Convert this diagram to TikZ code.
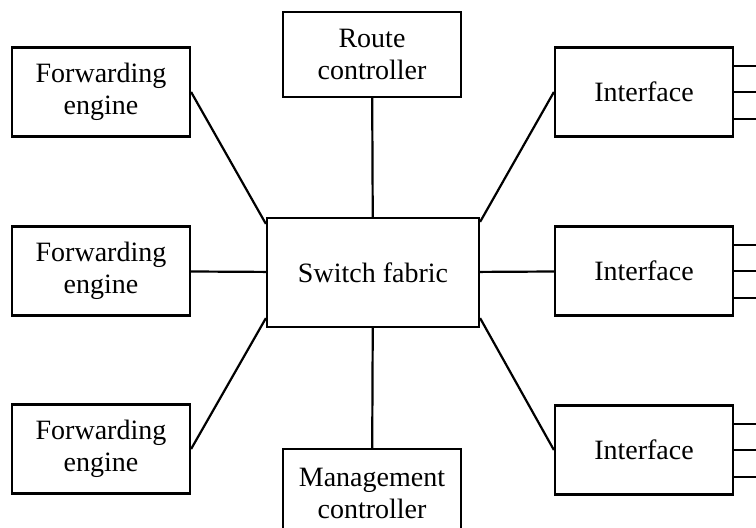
\documentclass[tikz,border=0pt]{standalone}
\usepackage{fontspec}
\setmainfont{Liberation Serif}
\begin{document}
\begin{tikzpicture}[x=1pt, y=-1pt, line width=2.2pt]
    \tikzstyle{block} = [rectangle, draw, minimum width=178pt, minimum height=89pt, align=center, font=\fontsize{28}{32}\selectfont]
    \useasboundingbox (0,0) rectangle (756,528);

    \node [block] (sf) at (373,272.5) [minimum width=212pt, minimum height=109pt] {Switch fabric};
    \node [block, minimum height=85pt] (rc) at (372,54.5) {Route\\controller};
    \node [block] (mc) at (372,493.5) {Management\\controller};

    \node [block] (fe1) at (101,92) {Forwarding\\engine};
    \node [block] (fe2) at (101,271) {Forwarding\\engine};
    \node [block] (fe3) at (101,449) {Forwarding\\engine};

    \node [block] (if1) at (644,92) {Interface};
    \node [block] (if2) at (644,271) {Interface};
    \node [block] (if3) at (644,450) {Interface};

    \draw (rc) -- (sf);
    \draw (sf) -- (mc);
    \draw (fe1.east) -- ([yshift=-7pt]sf.north west);
    \draw (fe2) -- (sf);
    \draw (fe3.east) -- ([yshift=10pt]sf.south west);
    \draw (if1.west) -- ([yshift=-5pt]sf.north east);
    \draw (if2) -- (sf);
    \draw (if3.west) -- ([yshift=10pt]sf.south east);

    % outgoing links
    \foreach \i in {if1, if2, if3}
        \foreach \dy in {-27, 0, 26}
            \draw ([yshift=\dy]\i.east) -- ++(30,0);
\end{tikzpicture}
\end{document}
